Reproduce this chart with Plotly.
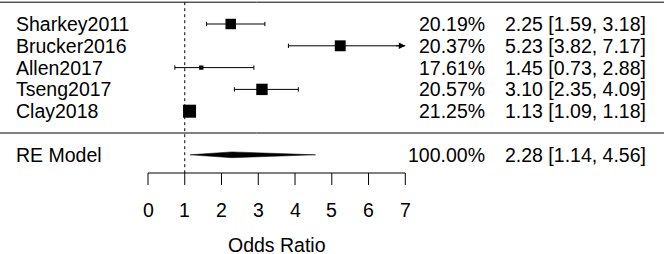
import plotly.graph_objects as go

# ---- data ----
studies = ["Sharkey2011", "Brucker2016", "Allen2017", "Tseng2017", "Clay2018"]
estimates = [2.25, 5.23, 1.45, 3.10, 1.13]
ci_lower = [1.59, 3.82, 0.73, 2.35, 1.09]
ci_upper = [3.18, 7.17, 2.88, 4.09, 1.18]
weights = [20.19, 20.37, 17.61, 20.57, 21.25]
re_label = "RE Model"
re_est, re_lo, re_hi, re_weight = 2.28, 1.14, 4.56, 100.00
tick_vals = [0, 1, 2, 3, 4, 5, 6, 7]
x_title = "Odds Ratio"
ref_value = 1

# ---- layout geometry ----
W, H = 664, 254
px_per_unit = (405.3 - 148) / 7.0
x0_px = 148
row_px = 21.8
top_row_px = 24
alim = (tick_vals[0], tick_vals[-1])
FONT = "Liberation Sans, Arial, sans-serif"
FS = 19.5

def ypix_to_val(p):
    return 5 - (p - top_row_px) / row_px

xr = [-x0_px / px_per_unit, (W - x0_px) / px_per_unit]
yr = [ypix_to_val(H), ypix_to_val(0)]

n = len(studies)
rows = list(range(n, 0, -1))  # 5..1
re_row = -1
axis_y = ypix_to_val(173)
tick_end_y = ypix_to_val(185)
ticklab_y = ypix_to_val(210)
title_y = ypix_to_val(245)

fig = go.Figure()
line_style = dict(color="black", width=1)

# dotted reference line
fig.add_trace(go.Scatter(x=[ref_value, ref_value], y=[n + 1, axis_y], mode="lines",
                         line=dict(color="black", width=1, dash="dot"),
                         hoverinfo="skip", showlegend=False))

cap_h = 2.2 / row_px
annotations = []
wmin, wmax = min(weights), max(weights)
for i in range(n):
    y = rows[i]
    lo = max(ci_lower[i], alim[0])
    hi = min(ci_upper[i], alim[1])
    fig.add_trace(go.Scatter(x=[lo, hi], y=[y, y], mode="lines", line=line_style,
                             hoverinfo="skip", showlegend=False))
    for val in (ci_lower[i], ci_upper[i]):
        if alim[0] <= val <= alim[1]:
            fig.add_trace(go.Scatter(x=[val, val], y=[y - cap_h, y + cap_h], mode="lines",
                                     line=line_style, hoverinfo="skip", showlegend=False))
        else:
            head = alim[1] if val > alim[1] else alim[0]
            tail = head - 0.3 if val > alim[1] else head + 0.3
            annotations.append(dict(x=head, y=y, ax=tail, ay=y,
                                    xref="x", yref="y", axref="x", ayref="y",
                                    text="", showarrow=True, arrowhead=2, arrowsize=1.3,
                                    arrowwidth=1, arrowcolor="black"))
    size = 4.3 + (weights[i] - wmin) / (wmax - wmin) * 8.7
    fig.add_trace(go.Scatter(x=[estimates[i]], y=[y], mode="markers",
                             marker=dict(symbol="square", size=size, color="black",
                                         line=dict(width=0)),
                             hoverinfo="skip", showlegend=False))

# RE diamond
dh = 2.9 / row_px
fig.add_trace(go.Scatter(x=[re_lo, re_est, re_hi, re_est, re_lo],
                         y=[re_row, re_row + dh, re_row, re_row - dh, re_row],
                         mode="lines", fill="toself", fillcolor="black",
                         line=dict(color="black", width=0.5),
                         hoverinfo="skip", showlegend=False))

# bottom axis: line + ticks
fig.add_trace(go.Scatter(x=[alim[0], alim[1]], y=[axis_y, axis_y], mode="lines",
                         line=line_style, hoverinfo="skip", showlegend=False))
tx, ty = [], []
for t in tick_vals:
    tx += [t, t, None]
    ty += [axis_y, tick_end_y, None]
fig.add_trace(go.Scatter(x=tx, y=ty, mode="lines", line=line_style,
                         hoverinfo="skip", showlegend=False))
for t in tick_vals:
    annotations.append(dict(x=t, y=ticklab_y, text=str(t), xanchor="center", yanchor="middle",
                            showarrow=False, xref="x", yref="y"))
annotations.append(dict(x=(alim[0] + alim[1]) / 2, y=title_y, text=x_title, xanchor="center",
                        yanchor="middle", showarrow=False, xref="x", yref="y"))

# texts
label_x = (14 - x0_px) / px_per_unit
pct_x = (487 - x0_px) / px_per_unit
est_x = (648 - x0_px) / px_per_unit
all_labels = studies + [re_label]
all_rows = rows + [re_row]
all_w = weights + [re_weight]
all_est = estimates + [re_est]
all_lo = ci_lower + [re_lo]
all_hi = ci_upper + [re_hi]
for lab, y, w, e, lo, hi in zip(all_labels, all_rows, all_w, all_est, all_lo, all_hi):
    annotations.append(dict(x=label_x, y=y, text=lab, xanchor="left", yanchor="middle",
                            showarrow=False, xref="x", yref="y"))
    annotations.append(dict(x=pct_x, y=y, text=f"{w:.2f}%", xanchor="right", yanchor="middle",
                            showarrow=False, xref="x", yref="y"))
    annotations.append(dict(x=est_x, y=y, text=f"{e:.2f} [{lo:.2f}, {hi:.2f}]",
                            xanchor="right", yanchor="middle",
                            showarrow=False, xref="x", yref="y"))

shapes = [
    dict(type="line", xref="paper", yref="y", x0=0, x1=1, y0=n + 1, y1=n + 1,
         line=dict(color="black", width=1)),
    dict(type="line", xref="paper", yref="y", x0=0, x1=1, y0=0, y1=0,
         line=dict(color="black", width=1)),
]

fig.update_layout(
    width=W, height=H,
    margin=dict(l=0, r=0, t=0, b=0, pad=0),
    paper_bgcolor="white", plot_bgcolor="white",
    font=dict(family=FONT, size=FS, color="black"),
    xaxis=dict(range=xr, visible=False, fixedrange=True),
    yaxis=dict(range=yr, visible=False, fixedrange=True),
    shapes=shapes,
    annotations=annotations,
    showlegend=False,
)

fig.write_html("out.html", config={"displayModeBar": False},
               post_script="document.body.style.margin='0';document.body.style.overflow='hidden';")
